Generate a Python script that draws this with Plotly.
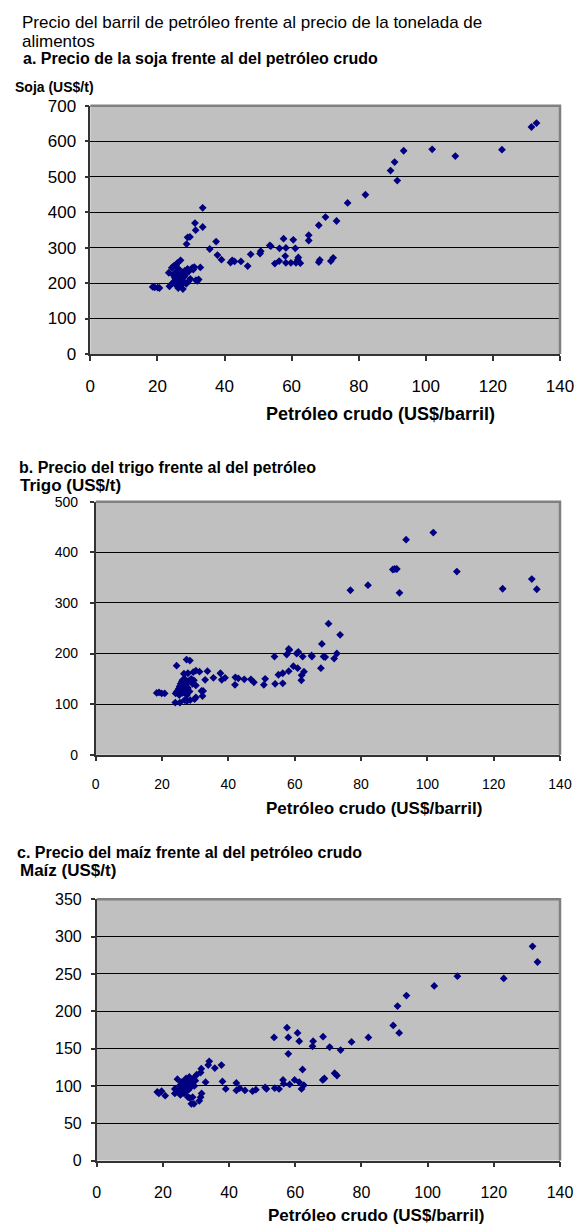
import plotly.graph_objects as go

W, H = 579, 1228

# ---------------- Data ----------------
soja_oil = [18.6, 19.2, 20.1, 20.6, 23.4, 23.6, 24.3, 24.8, 25.6, 25.9, 26.9, 25.5,
            24.5, 25.0, 25.2, 25.5, 25.8, 26.0, 26.2, 26.5, 26.7, 27.0, 27.2, 27.4, 27.6,
            27.8, 28.0, 28.2, 28.4, 28.6, 29.0, 29.3, 29.4, 29.8, 30.4, 30.7, 31.0, 31.5,
            31.9, 32.3, 32.8, 26.3, 25.3, 24.8,
            28.7, 29.0, 29.7, 31.2, 31.4, 33.5, 33.5,
            35.6, 37.5, 37.9, 39.1, 41.8, 42.3, 43.0, 44.9, 46.9, 47.8, 50.6, 50.8, 53.5,
            53.8, 55.0, 56.3, 56.4, 57.6, 58.1, 58.3, 58.3, 59.8, 60.5, 61.1, 61.3, 61.8,
            62.0, 62.6, 65.1, 65.1, 68.1, 68.4, 68.1, 70.1, 71.7, 72.4, 73.4, 76.7, 82.0,
            89.5, 90.7, 91.5, 93.4, 101.9, 108.8, 122.7, 131.5, 133.0]
soja_price = [189, 188, 187, 186, 229, 191, 243, 248, 252, 256, 264, 250,
              200, 205, 215, 195, 210, 220, 186, 200, 212, 225, 195, 230, 183,
              205, 218, 235, 224, 198, 240, 205, 233, 212, 243, 238, 245, 208,
              206, 210, 244, 240, 230, 222,
              310, 329, 330, 369, 349, 412, 358,
              296, 317, 279, 266, 258, 264, 261, 261, 248, 281, 283, 290, 306,
              304, 255, 262, 298, 325, 276, 299, 257, 257, 322, 298, 257, 265,
              272, 256, 335, 320, 259, 265, 363, 386, 262, 271, 375, 426, 449,
              517, 541, 489, 573, 577, 558, 576, 640, 651]

trigo_oil = [18.4, 19.1, 19.9, 20.8, 24.4, 24.0, 25.4, 24.1,
             27.4, 28.4, 26.6, 27.8, 29.4, 31.3, 30.2,
             24.5, 25.0, 25.3, 25.6, 25.8, 26.0, 26.2, 26.5, 26.8, 27.0, 27.2, 27.5, 27.8,
             28.0, 28.3, 28.8, 29.2, 29.6, 30.2, 26.3, 25.2,
             26.8, 27.5, 28.5, 29.8, 30.2,
             32.2, 31.9, 32.4, 33.0, 33.7,
             35.5, 37.6, 38.0, 39.0, 42.0, 42.1, 43.0, 44.8, 46.8, 47.7, 50.7, 51.1,
             53.9, 54.1, 55.1, 56.4, 56.4, 57.6, 58.2, 58.4, 58.2, 59.6, 60.6, 61.1, 60.9,
             62.0, 62.1, 62.8, 62.4, 65.1, 65.2, 67.9, 68.2, 68.7, 69.2, 70.2, 71.9, 72.7,
             73.7, 76.8, 82.1, 89.6, 90.2, 90.8, 91.6, 93.6, 101.8, 108.9, 122.7, 131.5, 133.0]
trigo_price = [122, 123, 121, 121, 176, 103, 103, 121,
               188, 186, 160, 161, 163, 164, 166,
               125, 130, 135, 140, 128, 145, 122, 133, 150, 128, 138, 118, 132,
               145, 125, 150, 140, 147, 137, 148, 118,
               108, 106, 108, 110, 113,
               116, 126, 126, 148, 165,
               152, 161, 148, 152, 138, 153, 151, 149, 149, 143, 138, 150,
               194, 140, 158, 161, 141, 198, 209, 207, 165, 175, 200, 203, 171,
               147, 157, 164, 194, 196, 194, 171, 219, 194, 193, 259, 190, 200,
               237, 325, 335, 366, 367, 367, 320, 425, 439, 362, 328, 347, 327]

maiz_oil = [18.3, 18.8, 19.6, 20.7, 23.6, 23.6, 24.4,
            24.8, 25.0, 25.3, 25.6, 25.9, 26.2, 26.5, 26.8, 27.0, 27.3, 27.6, 27.8, 28.0,
            28.3, 28.6, 28.9, 29.2, 29.5, 29.8, 30.2, 25.7, 26.4,
            27.6, 28.1, 28.6, 29.4, 29.0,
            31.0, 31.4, 31.7,
            31.4, 31.6, 32.9, 33.7, 34.0, 35.7, 37.7, 38.0, 39.0, 42.2, 42.2, 43.2, 44.8,
            47.1, 48.1, 50.9, 51.3, 53.8, 53.6, 55.1, 56.3, 56.5, 57.5, 57.9, 57.9, 58.3,
            59.8, 60.7, 61.2, 61.2, 61.9, 62.6, 62.2, 65.4, 65.2, 68.3, 68.8, 68.4, 70.4,
            71.9, 72.6, 73.7, 77.0, 82.1, 89.6, 90.9, 91.4, 93.6, 102.0, 109.0, 123.0,
            131.7, 133.2]
maiz_price = [92, 90, 93, 87, 96, 90, 109,
              93, 100, 88, 95, 103, 97, 107, 92, 110, 100, 105, 95, 112,
              98, 108, 103, 110, 100, 107, 115, 105, 90,
              85, 84, 76, 76, 85,
              80, 85, 90,
              118, 123, 105, 128, 133, 124, 128, 106, 96, 104, 94, 97, 94,
              93, 95, 98, 96, 97, 165, 96, 108, 103, 178, 165, 143, 102,
              108, 171, 160, 105, 96, 101, 122, 160, 153, 108, 110, 166, 152,
              117, 114, 148, 159, 165, 181, 207, 171, 221, 234, 247, 244,
              287, 266]

x_ticks = [0, 20, 40, 60, 80, 100, 120, 140]
soja_ticks = [0, 100, 200, 300, 400, 500, 600, 700]
trigo_ticks = [0, 100, 200, 300, 400, 500]
maiz_ticks = [0, 50, 100, 150, 200, 250, 300, 350]

# ---------------- Layout helpers ----------------
def fx(p):
    return p / W

def fy(p):
    return 1 - p / H

FONT = "Liberation Sans, Arial, sans-serif"
MARK = dict(symbol="diamond", size=6, color="#000080", line=dict(width=0))
PLOT_BG = "#C0C0C0"

panels = [
    # (xdata, ydata, yticks, ymax, x px (left,right), y px (top,bottom), tick size, y standoff, x standoff)
    (soja_oil, soja_price, soja_ticks, 700, (90.3, 560.0), (105.7, 354.0), 17, 5, 11),
    (trigo_oil, trigo_price, trigo_ticks, 500, (95.7, 560.0), (501.7, 754.7), 14, 9, 11),
    (maiz_oil, maiz_price, maiz_ticks, 350, (96.7, 560.0), (899.3, 1160.6), 16, 6, 11),
]

fig = go.Figure()
shapes = []
for i, (xs, ys, yt, ymax, (xl, xr), (yt_px, yb_px), tfs, ystand, xstand) in enumerate(panels):
    n = "" if i == 0 else str(i + 1)
    fig.add_trace(go.Scatter(x=xs, y=ys, mode="markers", marker=MARK,
                             xaxis="x" + n, yaxis="y" + n, showlegend=False,
                             hoverinfo="x+y"))
    fig.layout["xaxis" + n] = dict(
        domain=[fx(xl), fx(xr)], range=[0, 140], tickvals=x_ticks,
        anchor="y" + n, showgrid=False, zeroline=False, automargin=False,
        showline=True, linecolor="#333333", linewidth=1.5,
        ticks="outside", ticklen=5, tickcolor="#333333", tickwidth=1.5,
        tickfont=dict(family=FONT, size=tfs, color="#000000"),
        ticklabelstandoff=xstand,
    )
    fig.layout["yaxis" + n] = dict(
        domain=[fy(yb_px), fy(yt_px)], range=[0, ymax], tickvals=yt,
        anchor="x" + n, showgrid=True, gridcolor="#000000", gridwidth=1,
        zeroline=False, automargin=False,
        showline=True, linecolor="#333333", linewidth=1.5,
        ticks="outside", ticklen=4, tickcolor="#333333", tickwidth=1.5,
        tickfont=dict(family=FONT, size=tfs, color="#000000"),
        ticklabelstandoff=ystand,
    )
    shapes.append(dict(type="rect", xref="x%s domain" % n, yref="y%s domain" % n,
                       x0=0, x1=1, y0=0, y1=1, fillcolor=PLOT_BG,
                       line=dict(width=0), layer="below"))
    shapes.append(dict(type="path", xref="x%s domain" % n, yref="y%s domain" % n,
                       path="M 0 1 L 1 1 L 1 0", line=dict(color="#808080", width=2.5),
                       layer="above"))

annotations = []
def txt(text, x, y, size, bold=False, xanchor="left"):
    annotations.append(dict(
        text=("<b>%s</b>" % text) if bold else text,
        x=fx(x), y=fy(y), xref="paper", yref="paper",
        xanchor=xanchor, yanchor="middle", showarrow=False,
        font=dict(family=FONT, size=size, color="#000000")))

txt("Precio del barril de petróleo frente al precio de la tonelada de", 20, 22, 17)
txt("alimentos", 20, 41, 17)
txt("a. Precio de la soja frente al del petróleo crudo", 21, 58, 16, True)
txt("Soja (US$/t)", 13, 87, 14, True)
txt("Petróleo crudo (US$/barril)", 380, 414, 18, True, "center")
txt("b. Precio del trigo frente al del petróleo", 17, 467, 16, True)
txt("Trigo (US$/t)", 18, 485, 17, True)
txt("Petróleo crudo (US$/barril)", 374, 808, 17, True, "center")
txt("c. Precio del maíz frente al del petróleo crudo", 15, 852, 16, True)
txt("Maíz (US$/t)", 18, 870, 17, True)
txt("Petróleo crudo (US$/barril)", 376, 1215, 17, True, "center")

fig.update_layout(
    width=W, height=H, margin=dict(l=0, r=0, t=0, b=0, autoexpand=False),
    paper_bgcolor="#FFFFFF", plot_bgcolor="rgba(0,0,0,0)",
    shapes=shapes, annotations=annotations,
    font=dict(family=FONT, color="#000000"),
)

# remove the browser's default 8px page margin so the figure fills the window exactly
fig.write_html("out.html",
               config={"displayModeBar": False},
               post_script="document.body.style.margin='0';"
                           "document.body.style.overflow='hidden';")
